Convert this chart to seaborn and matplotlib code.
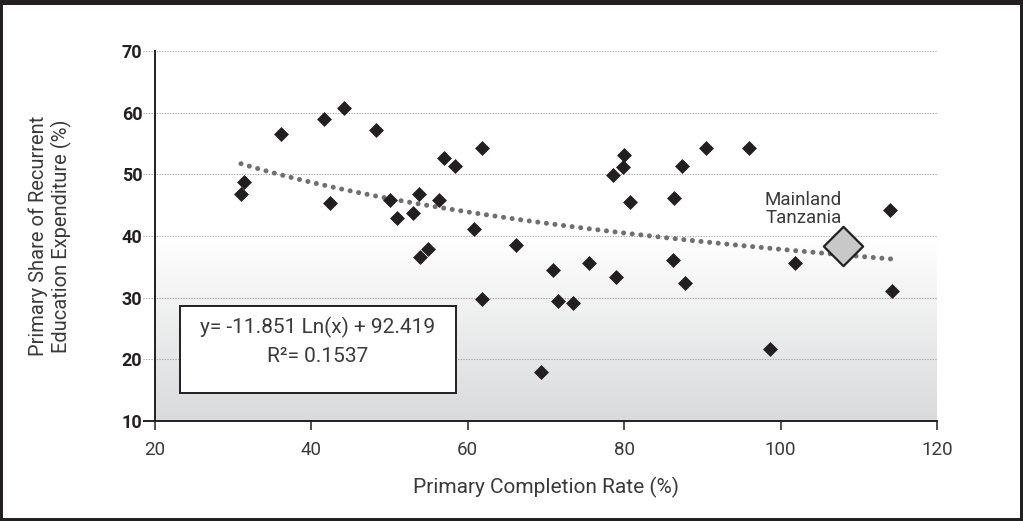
import numpy as np
import pandas as pd
import matplotlib
matplotlib.use("Agg")
import matplotlib.pyplot as plt
import seaborn as sns
from matplotlib.patches import Rectangle
from matplotlib.colors import LinearSegmentedColormap
from matplotlib.transforms import blended_transform_factory

# Countries: primary completion rate vs. primary share of recurrent spending
completion = [31.0, 31.4, 36.1, 41.6, 44.2, 48.3, 42.4, 50.1, 51.0, 53.0,
              53.7, 56.3, 56.9, 58.3, 61.8, 60.8, 53.9, 54.9, 66.1, 61.8,
              70.9, 71.5, 73.5, 75.5, 79.0, 69.4, 80.0, 79.9, 78.6, 80.7,
              86.4, 87.4, 90.5, 96.0, 86.3, 87.8, 101.9, 114.2, 98.6, 114.0]
share = [46.8, 48.8, 56.5, 59.0, 60.7, 57.2, 45.4, 45.8, 42.9, 43.7,
         46.8, 45.8, 52.6, 51.3, 54.2, 41.2, 36.6, 37.9, 38.5, 29.8,
         34.5, 29.4, 29.1, 35.6, 33.3, 18.0, 53.1, 51.2, 49.9, 45.5,
         46.1, 51.3, 54.2, 54.2, 36.1, 32.3, 35.6, 31.1, 21.7, 44.2]

# Highlighted country
focus_name = "Mainland\nTanzania"
focus_x = [108.0]
focus_y = [38.3]

# Logarithmic trend line coefficients
trend_a = -11.851
trend_b = 92.419
trend_r2 = 0.1537

x_ticks = [20, 40, 60, 80, 100, 120]
y_ticks = [10, 20, 30, 40, 50, 60, 70]

x_label = "Primary Completion Rate (%)"
y_label = "Primary Share of Recurrent\nEducation Expenditure (%)"

sns.set_theme(style="white")
plt.rcParams["font.family"] = ["Roboto", "DejaVu Sans"]

DARK = "#231f20"
TEXT = "#3a3a3a"

fig = plt.figure(figsize=(10.23, 5.21), dpi=100)
ax = fig.add_axes([155 / 1023, 1 - 421 / 521, (937 - 155) / 1023, (421 - 51) / 521])
ax.set_xlim(20, 120)
ax.set_ylim(10, 70)

# Shaded lower band: white at 40 fading to light grey at the floor
grad = np.linspace(1, 0, 256).reshape(-1, 1)
cmap = LinearSegmentedColormap.from_list("band", [(0.85, 0.855, 0.86), (1, 1, 1)])
ax.imshow(grad, extent=[20, 120, 10, 40], aspect="auto", cmap=cmap,
          origin="upper", zorder=0, interpolation="bicubic")

# Dotted horizontal grid, extended slightly past the left spine
trans = blended_transform_factory(ax.transAxes, ax.transData)
ext = -12 / (937 - 155)
ax.hlines(y_ticks[1:], ext, 1, transform=trans, colors="#9c9c9c",
          linestyles=(0, (1, 1.4)), lw=0.8, clip_on=False, zorder=1)
ax.hlines(y_ticks[0], ext, 0, transform=trans, colors=DARK, lw=1.4,
          clip_on=False, zorder=4)

df = pd.DataFrame({"completion": completion, "share": share})
sns.scatterplot(data=df, x="completion", y="share", marker="D", s=58,
                color=DARK, linewidth=0, ax=ax, zorder=3, legend=False)

# Trend line from the stated equation
xf = np.linspace(min(completion), max(completion) + 0.8, 200)
yf = trend_a * np.log(xf) + trend_b
sns.lineplot(x=xf, y=yf, ax=ax, color="#6f6f6f", lw=3.6,
             linestyle=(0, (0.01, 1.72)), zorder=2.5, legend=False)
ax.get_lines()[-1].set_dash_capstyle("round")

sns.scatterplot(x=focus_x, y=focus_y, marker="D", s=400, color="#c8c8c8",
                edgecolor=DARK, linewidth=1.6, ax=ax, zorder=4, legend=False)
ax.text(102.9, 44.4, focus_name, ha="center", va="center", fontsize=13.5,
        color=TEXT, linespacing=1.0)

# Equation box
ax.add_patch(Rectangle((23.2, 14.5), 35.3, 14.1, facecolor="white",
                       edgecolor=DARK, lw=1.4, zorder=5))
ax.text(40.85, 25.1, f"y= {trend_a:.3f} Ln(x) + {trend_b:.3f}", ha="center",
        va="center", fontsize=15, color=TEXT, zorder=6)
ax.text(40.85, 20.4, f"R\u00b2= {trend_r2:.4f}", ha="center", va="center",
        fontsize=15, color=TEXT, zorder=6)

ax.set_xticks(x_ticks)
ax.set_yticks(y_ticks)
ax.set_xticklabels([str(v) for v in x_ticks])
ax.set_yticklabels([str(v) for v in y_ticks])
ax.tick_params(axis="x", direction="out", length=6.5, width=1.1, color=DARK,
               labelsize=13.5, labelcolor=TEXT, pad=8, bottom=True)
ax.tick_params(axis="y", length=0, labelsize=13, labelcolor=DARK, pad=9, left=True)
for lab in ax.get_yticklabels():
    lab.set_fontweight("bold")

ax.set_xlabel(x_label, fontsize=15, color=TEXT, labelpad=13)
ax.set_ylabel(y_label, fontsize=14.5, color=TEXT, labelpad=36, linespacing=1.15)

for side in ["top", "right"]:
    ax.spines[side].set_visible(False)
for side in ["left", "bottom"]:
    ax.spines[side].set_color(DARK)
    ax.spines[side].set_linewidth(1.4)
    ax.spines[side].set_zorder(4)
ax.grid(False)

# Outer frame
fig.patches.append(Rectangle((0, 0), 1, 1, transform=fig.transFigure,
                             fill=False, edgecolor=DARK, lw=4.3, zorder=10))
fig.patches.append(Rectangle((0, 1 - 5 / 521), 1, 5 / 521, transform=fig.transFigure,
                             facecolor=DARK, edgecolor="none", zorder=10))

fig.savefig("out.png", dpi=100)
